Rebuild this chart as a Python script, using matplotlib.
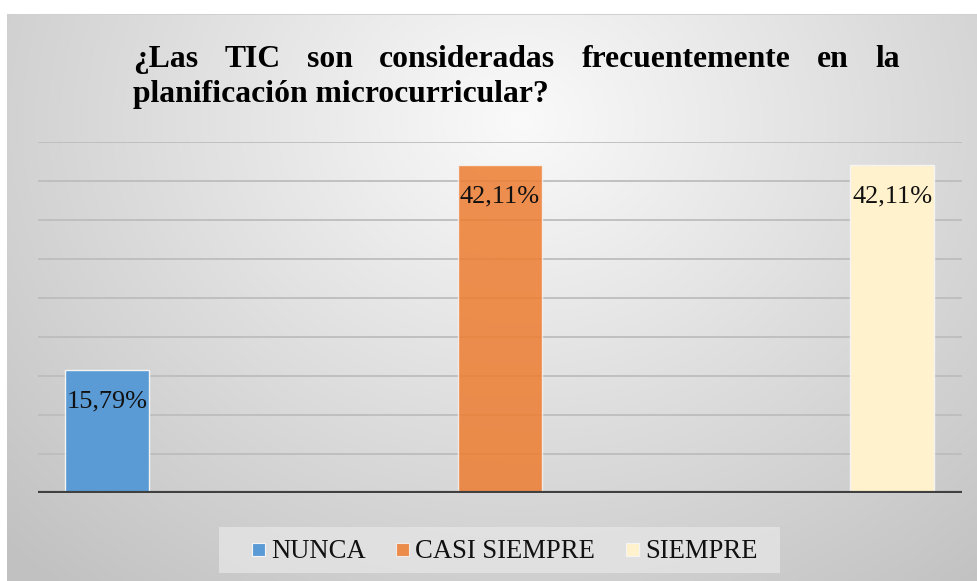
import numpy as np
import matplotlib
matplotlib.use('Agg')
import matplotlib.pyplot as plt
from matplotlib.patches import Rectangle
from matplotlib import font_manager as fm

categories = ['NUNCA', 'CASI SIEMPRE', 'SIEMPRE']
values = [15.79, 42.11, 42.11]
value_labels = ['15,79%', '42,11%', '42,11%']
colors = ['#5B9BD5', '#ED7D31', '#FFF2CC']
bar_alpha = [1.0, 0.85, 1.0]
title_line1 = ['¿Las', 'TIC', 'son', 'consideradas', 'frecuentemente', 'en', 'la']
title_line2 = 'planificación microcurricular?'
y_max = 45
y_step = 5

W, H = 978, 581
REG = fm.findfont(fm.FontProperties(family='Liberation Serif'))
BOLD = fm.findfont(fm.FontProperties(family='Liberation Serif', weight='bold'))


def fp(path, size):
    return fm.FontProperties(fname=path, size=size)


fig = plt.figure(figsize=(W / 100, H / 100), dpi=100)
fig.canvas.draw()
r = fig.canvas.get_renderer()


def fit_size(text, path, target_px, trial=20.0):
    t = fig.text(0, 0, text, fontproperties=fp(path, trial))
    w = t.get_window_extent(renderer=r).width
    t.remove()
    return trial * target_px / w


fs_title = fit_size(title_line2, BOLD, 415)
fs_label = fit_size('42,11%', REG, 80)
fs_leg = fit_size('CASI SIEMPRE', REG, 180)

# background gradient
bg = fig.add_axes([0, 0, 1, 1], zorder=-10)
yy, xx = np.mgrid[0:H, 0:W]
d = np.sqrt(((xx - 520) / 620.0) ** 2 + ((yy - 120) / 520.0) ** 2)
val = np.clip(0.98 - 0.19 * d, 0.76, 0.98)
img = np.dstack([val, val, val])
img[:14, :, :] = 1.0
img[:, :7, :] = 1.0
img[14, 7:, :] = 0.82
bg.imshow(img, extent=[0, W, H, 0], aspect='auto', interpolation='bilinear')
bg.set_xlim(0, W)
bg.set_ylim(H, 0)
bg.axis('off')

# plot axes
x0, x1, yt, yb = 38, 962, 142, 493
ax = fig.add_axes([x0 / W, 1 - yb / H, (x1 - x0) / W, (yb - yt) / H])
ax.patch.set_alpha(0)
pos = np.arange(len(categories))
ax.set_xlim(-0.177, 2.178)
ax.set_ylim(0, y_max)
for g in np.arange(y_step, y_max + 0.1, y_step):
    ax.axhline(g, color='#bdbdbd', lw=1.3, zorder=1)
ax.axhline(0, color='#404040', lw=3, zorder=4)
for i in pos:
    ax.bar(pos[i], values[i], width=84 / 392.5, color=colors[i], alpha=bar_alpha[i],
           edgecolor='#f4f4f4', linewidth=1.0, zorder=3)
    ax.annotate(value_labels[i], (pos[i], values[i]), xytext=(0, -23), textcoords='offset points',
                ha='center', va='center', fontproperties=fp(REG, fs_label), color='#111111', zorder=5)
for s in ax.spines.values():
    s.set_visible(False)
ax.set_xticks([])
ax.set_yticks([])

# title (justified first line)
tl, tr = 133, 900
texts = []
widths = []
for w in title_line1:
    t = fig.text(0, 0, w, fontproperties=fp(BOLD, fs_title))
    widths.append(t.get_window_extent(renderer=r).width)
    texts.append(t)
gap = (tr - tl - sum(widths)) / (len(title_line1) - 1)
cx = tl
for t, wd in zip(texts, widths):
    t.set_position((cx / W, 1 - 67 / H))
    t.set_va('baseline')
    cx += wd + gap
fig.text(tl / W, 1 - 102 / H, title_line2, fontproperties=fp(BOLD, fs_title),
         va='baseline', ha='left')

# legend
lg = fig.add_axes([0, 0, 1, 1], zorder=5)
lg.set_xlim(0, W)
lg.set_ylim(H, 0)
lg.axis('off')
lg.add_patch(Rectangle((219, 527), 780 - 219, 573 - 527, facecolor='#e6e6e6', alpha=0.75,
                       edgecolor='none'))
sq_x = [252, 396, 626]
for i, c in enumerate(categories):
    lg.add_patch(Rectangle((sq_x[i], 543), 13, 13, facecolor=colors[i], alpha=bar_alpha[i],
                           edgecolor='#f4f4f4', lw=0.8))
    lg.text(sq_x[i] + 19, 551, c, fontproperties=fp(REG, fs_leg), va='center', ha='left',
            color='#111111')

fig.savefig('out.png', dpi=100)
